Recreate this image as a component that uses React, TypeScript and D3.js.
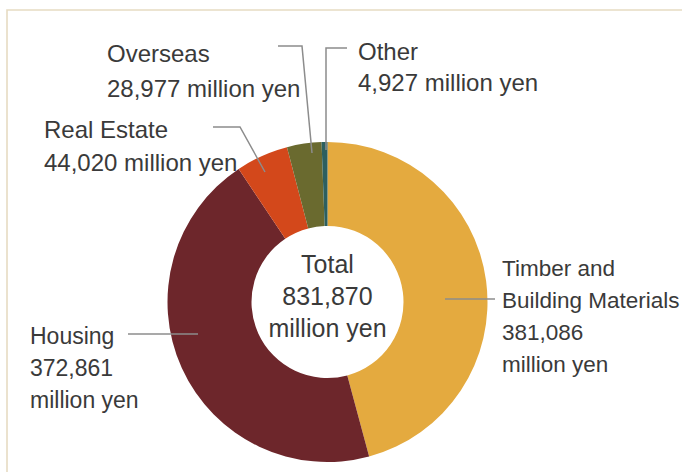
import React from "react";
import * as d3 from "d3";

const categories = ["Timber and Building Materials", "Housing", "Real Estate", "Overseas", "Other"];
const values = [381086, 372861, 44020, 28977, 4927];
const colors = ["#e4aa3f", "#6d262b", "#d3481b", "#6a6a2f", "#2c5f5f"];
const labelLines = [
  ["Timber and", "Building Materials", "381,086", "million yen"],
  ["Housing", "372,861", "million yen"],
  ["Real Estate", "44,020 million yen"],
  ["Overseas", "28,977 million yen"],
  ["Other", "4,927 million yen"],
];
const centerLines = ["Total", "831,870", "million yen"];

const W = 682;
const H = 472;
const cx = 327.5;
const cy = 302;
const rOuter = 160;
const rInner = 76;
const FONT = "'Liberation Sans', Arial, sans-serif";
const TEXT = "#3a3a3a";
const LEADER = "#8c8c8c";

// label layout: text anchor x, first baseline, line spacing, font size, leader polyline
const layout = [
  { x: 502, y: 276, dy: 32, fs: 22.5, leader: [[495, 299], [445, 299]] },
  { x: 30, y: 344, dy: 32, fs: 23, leader: [[128, 334], [198, 334]] },
  { x: 44, y: 138, dy: 33, fs: 24, leader: [[213, 127], [240, 127], [265, 172]] },
  { x: 107, y: 62, dy: 35, fs: 24, leader: [[278, 46], [302, 46], [312, 153]] },
  { x: 358, y: 60, dy: 31, fs: 24, leader: [[347, 48], [326, 48], [326, 150]] },
];

export default function App() {
  const pie = d3.pie<number>().sort(null).value((d) => d)(values);
  const arc = d3.arc<d3.PieArcDatum<number>>().innerRadius(rInner).outerRadius(rOuter);
  const line = d3.line();
  return (
    <svg
      width={W}
      height={H}
      viewBox={`0 0 ${W} ${H}`}
      style={{ position: "absolute", left: 0, top: 0, background: "#fff" }}
    >
      <rect x={0} y={0} width={W} height={H} fill="#fff" />
      <path d={`M7,${H} L7,10 L${W},10`} fill="none" stroke="#e6dbc2" strokeWidth={1.6} />
      <g transform={`translate(${cx},${cy})`}>
        {pie.map((p, i) => (
          <path key={categories[i]} d={arc(p) || ""} fill={colors[i]} />
        ))}
      </g>
      {layout.map((l, i) => (
        <path
          key={"leader" + i}
          d={line(l.leader as [number, number][]) || ""}
          fill="none"
          stroke={LEADER}
          strokeWidth={1.5}
        />
      ))}
      {layout.map((l, i) => (
        <text key={"label" + i} fontFamily={FONT} fontSize={l.fs} fill={TEXT}>
          {labelLines[i].map((t, j) => (
            <tspan key={j} x={l.x} y={l.y + j * l.dy}>
              {t}
            </tspan>
          ))}
        </text>
      ))}
      <text fontFamily={FONT} fontSize={25} fill={TEXT} textAnchor="middle">
        {centerLines.map((t, j) => (
          <tspan key={j} x={cx} y={273 + j * 32}>
            {t}
          </tspan>
        ))}
      </text>
    </svg>
  );
}
